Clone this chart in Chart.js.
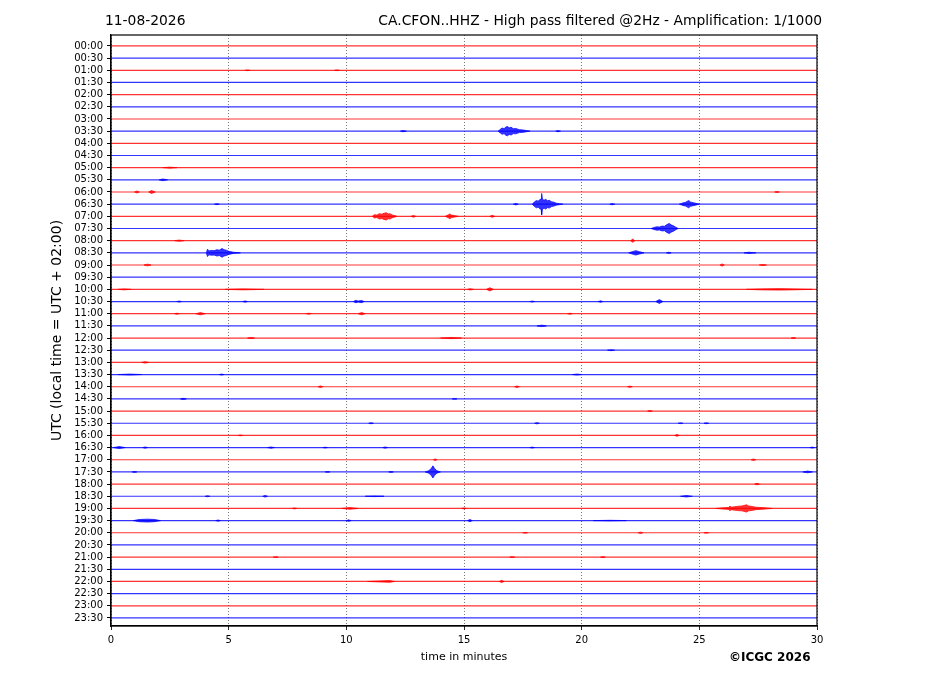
<!DOCTYPE html>
<html><head><meta charset="utf-8">
<script src="https://cdn.jsdelivr.net/npm/chart.js@4.4.1/dist/chart.umd.min.js"></script>
<style>
html,body{margin:0;padding:0;background:#fff;}
#wrap{position:relative;width:927px;height:696px;overflow:hidden;}
.t{position:absolute;font-family:"DejaVu Sans",sans-serif;font-size:13.85px;color:#000;white-space:nowrap;line-height:16px;}
</style></head><body>
<div id="wrap">
<canvas id="c" width="927" height="696"></canvas>
<div class="t" style="left:105px;top:12px;">11-08-2026</div>
<div class="t" style="right:105px;top:12px;">CA.CFON..HHZ - High pass filtered @2Hz - Amplification: 1/1000</div>
<div class="t" style="left:729px;top:650px;font-weight:bold;font-size:12px;line-height:14px;">©ICGC 2026</div>
</div>
<script>
// ---- data ----
const ROW_LABELS = ['00:00','00:30','01:00','01:30','02:00','02:30','03:00','03:30','04:00','04:30',
  '05:00','05:30','06:00','06:30','07:00','07:30','08:00','08:30','09:00','09:30',
  '10:00','10:30','11:00','11:30','12:00','12:30','13:00','13:30','14:00','14:30',
  '15:00','15:30','16:00','16:30','17:00','17:30','18:00','18:30','19:00','19:30',
  '20:00','20:30','21:00','21:30','22:00','22:30','23:00','23:30'];
const X_TICKS = [0, 5, 10, 15, 20, 25, 30];
const TRACE_COLORS = ['255,0,0', '0,0,255'];
// events: [row label, [[minute, half-amplitude in row units], ...]]
const EVENTS = [
  ['01:00', [[5.7,0],[5.8,0.03],[5.9,0]]],
  ['01:00', [[9.5,0],[9.6,0.03],[9.7,0]]],
  ['03:30', [[12.3,0],[12.4,0.05],[12.55,0]]],
  ['03:30', [[16.45,0],[16.55,0.16],[16.62,0.26],[16.7,0.2],[16.78,0.34],[16.85,0.38],[16.92,0.27],[17.0,0.32],[17.1,0.2],[17.2,0.22],[17.35,0.12],[17.5,0.1],[17.65,0.05],[17.8,0]]],
  ['03:30', [[18.9,0],[19.0,0.05],[19.1,0]]],
  ['05:00', [[2.2,0],[2.5,0.04],[2.8,0]]],
  ['05:30', [[2.05,0],[2.2,0.07],[2.4,0]]],
  ['06:00', [[1.0,0],[1.1,0.08],[1.2,0]]],
  ['06:00', [[1.6,0],[1.72,0.12],[1.88,0]]],
  ['06:00', [[28.2,0],[28.3,0.04],[28.4,0]]],
  ['06:30', [[4.4,0],[4.5,0.04],[4.6,0]]],
  ['06:30', [[17.1,0],[17.2,0.06],[17.3,0]]],
  ['06:30', [[17.9,0],[18.0,0.2],[18.08,0.3],[18.15,0.24],[18.22,0.38],[18.28,0.42],[18.3,0.88],[18.33,0.42],[18.4,0.32],[18.47,0.4],[18.55,0.28],[18.62,0.32],[18.72,0.2],[18.82,0.16],[18.92,0.08],[19.05,0.04],[19.2,0]]],
  ['06:30', [[21.2,0],[21.3,0.05],[21.4,0]]],
  ['06:30', [[24.15,0],[24.3,0.1],[24.42,0.16],[24.55,0.3],[24.62,0.18],[24.75,0.12],[25.0,0]]],
  ['07:00', [[11.1,0],[11.2,0.14],[11.3,0.1],[11.4,0.22],[11.5,0.18],[11.6,0.25],[11.7,0.3],[11.78,0.2],[11.85,0.22],[11.95,0.12],[12.15,0]]],
  ['07:00', [[12.75,0],[12.85,0.07],[12.95,0]]],
  ['07:00', [[14.2,0],[14.32,0.1],[14.4,0.2],[14.47,0.1],[14.6,0.06],[14.75,0]]],
  ['07:00', [[16.1,0],[16.2,0.08],[16.3,0]]],
  ['07:30', [[22.95,0],[23.1,0.1],[23.2,0.14],[23.3,0.12],[23.42,0.2],[23.52,0.18],[23.62,0.32],[23.72,0.42],[23.8,0.3],[23.9,0.22],[24.0,0.1],[24.1,0]]],
  ['08:00', [[2.7,0],[2.9,0.05],[3.1,0]]],
  ['08:00', [[22.08,0],[22.17,0.13],[22.26,0]]],
  ['08:30', [[4.05,0],[4.1,0.3],[4.16,0.16],[4.28,0.2],[4.38,0.18],[4.5,0.26],[4.6,0.22],[4.72,0.36],[4.8,0.26],[4.9,0.22],[5.0,0.13],[5.2,0.05],[5.5,0]]],
  ['08:30', [[22.0,0],[22.15,0.1],[22.3,0.18],[22.45,0.1],[22.65,0]]],
  ['08:30', [[23.6,0],[23.7,0.05],[23.8,0]]],
  ['08:30', [[26.9,0],[27.1,0.05],[27.4,0]]],
  ['09:00', [[1.4,0],[1.55,0.07],[1.7,0]]],
  ['09:00', [[25.88,0],[25.97,0.09],[26.06,0]]],
  ['09:00', [[27.55,0],[27.7,0.04],[27.85,0]]],
  ['10:00', [[0.3,0],[0.55,0.04],[0.85,0]]],
  ['10:00', [[4.85,0],[5.6,0.04],[6.5,0]]],
  ['10:00', [[15.15,0],[15.26,0.05],[15.4,0]]],
  ['10:00', [[15.95,0],[16.1,0.13],[16.25,0]]],
  ['10:00', [[27.0,0],[27.6,0.04],[28.4,0.06],[29.0,0.04],[29.8,0]]],
  ['10:30', [[2.8,0],[2.9,0.04],[3.0,0]]],
  ['10:30', [[5.6,0],[5.7,0.05],[5.8,0]]],
  ['10:30', [[10.3,0],[10.4,0.1],[10.5,0.04],[10.65,0.09],[10.75,0]]],
  ['10:30', [[17.8,0],[17.9,0.04],[18.0,0]]],
  ['10:30', [[20.7,0],[20.8,0.06],[20.9,0]]],
  ['10:30', [[23.15,0],[23.3,0.16],[23.45,0]]],
  ['11:00', [[2.7,0],[2.8,0.04],[2.9,0]]],
  ['11:00', [[3.6,0],[3.8,0.09],[4.0,0]]],
  ['11:00', [[8.3,0],[8.4,0.04],[8.5,0]]],
  ['11:00', [[10.5,0],[10.65,0.09],[10.8,0]]],
  ['11:00', [[19.4,0],[19.5,0.04],[19.6,0]]],
  ['11:30', [[18.1,0],[18.3,0.06],[18.5,0]]],
  ['12:00', [[5.8,0],[5.95,0.04],[6.1,0]]],
  ['12:00', [[14.0,0],[14.45,0.05],[14.9,0]]],
  ['12:00', [[28.9,0],[29.0,0.04],[29.1,0]]],
  ['12:30', [[21.1,0],[21.25,0.04],[21.4,0]]],
  ['13:00', [[1.3,0],[1.45,0.06],[1.6,0]]],
  ['13:30', [[0.3,0],[0.8,0.04],[1.3,0]]],
  ['13:30', [[4.6,0],[4.7,0.04],[4.8,0]]],
  ['13:30', [[19.6,0],[19.8,0.04],[20.0,0]]],
  ['14:00', [[8.8,0],[8.9,0.07],[9.0,0]]],
  ['14:00', [[17.15,0],[17.25,0.06],[17.35,0]]],
  ['14:00', [[21.95,0],[22.05,0.05],[22.15,0]]],
  ['14:30', [[2.95,0],[3.06,0.05],[3.2,0]]],
  ['14:30', [[14.5,0],[14.6,0.03],[14.7,0]]],
  ['15:00', [[22.8,0],[22.9,0.04],[23.0,0]]],
  ['15:30', [[10.95,0],[11.05,0.04],[11.15,0]]],
  ['15:30', [[18.0,0],[18.1,0.05],[18.2,0]]],
  ['15:30', [[24.1,0],[24.2,0.03],[24.3,0]]],
  ['15:30', [[25.2,0],[25.3,0.04],[25.4,0]]],
  ['16:00', [[5.4,0],[5.5,0.03],[5.6,0]]],
  ['16:00', [[23.95,0],[24.05,0.07],[24.15,0]]],
  ['16:30', [[0.1,0],[0.35,0.08],[0.6,0]]],
  ['16:30', [[1.35,0],[1.45,0.05],[1.55,0]]],
  ['16:30', [[6.65,0],[6.8,0.05],[6.95,0]]],
  ['16:30', [[9.0,0],[9.1,0.03],[9.2,0]]],
  ['16:30', [[11.55,0],[11.65,0.05],[11.75,0]]],
  ['16:30', [[17.8,0],[17.9,0.04],[18.0,0]]],
  ['16:30', [[29.7,0],[29.8,0.04],[29.9,0]]],
  ['17:00', [[13.7,0],[13.77,0.07],[13.85,0]]],
  ['17:00', [[27.2,0],[27.3,0.06],[27.4,0]]],
  ['17:30', [[0.9,0],[1.0,0.04],[1.1,0]]],
  ['17:30', [[9.1,0],[9.2,0.03],[9.3,0]]],
  ['17:30', [[11.8,0],[11.9,0.04],[12.0,0]]],
  ['17:30', [[13.35,0],[13.5,0.1],[13.6,0.26],[13.68,0.5],[13.75,0.28],[13.85,0.1],[14.0,0]]],
  ['17:30', [[29.4,0],[29.6,0.07],[29.8,0]]],
  ['18:00', [[27.35,0],[27.45,0.06],[27.55,0]]],
  ['18:30', [[4.0,0],[4.1,0.04],[4.2,0]]],
  ['18:30', [[6.45,0],[6.55,0.07],[6.65,0]]],
  ['18:30', [[10.8,0],[11.2,0.03],[11.6,0]]],
  ['18:30', [[24.2,0],[24.45,0.06],[24.7,0]]],
  ['19:00', [[7.7,0],[7.8,0.04],[7.9,0]]],
  ['19:00', [[9.8,0],[10.15,0.07],[10.5,0]]],
  ['19:00', [[14.9,0],[15.0,0.04],[15.1,0]]],
  ['19:00', [[25.7,0],[26.0,0.05],[26.25,0.08],[26.3,0.2],[26.35,0.1],[26.5,0.14],[26.65,0.18],[26.8,0.2],[26.9,0.24],[27.0,0.3],[27.1,0.2],[27.25,0.16],[27.4,0.1],[27.8,0.05],[28.1,0]]],
  ['19:30', [[0.95,0],[1.2,0.09],[1.55,0.12],[1.85,0.09],[2.1,0]]],
  ['19:30', [[4.45,0],[4.55,0.05],[4.65,0]]],
  ['19:30', [[10.0,0],[10.1,0.06],[10.2,0]]],
  ['19:30', [[15.15,0],[15.25,0.09],[15.35,0]]],
  ['19:30', [[20.5,0],[21.2,0.025],[21.9,0]]],
  ['20:00', [[17.5,0],[17.6,0.03],[17.7,0]]],
  ['20:00', [[22.4,0],[22.5,0.05],[22.6,0]]],
  ['20:00', [[25.2,0],[25.3,0.03],[25.4,0]]],
  ['21:00', [[6.9,0],[7.0,0.03],[7.1,0]]],
  ['21:00', [[16.95,0],[17.05,0.04],[17.15,0]]],
  ['21:00', [[20.8,0],[20.9,0.04],[21.0,0]]],
  ['22:00', [[10.9,0],[11.4,0.04],[11.85,0.07],[12.05,0]]],
  ['22:00', [[16.5,0],[16.6,0.09],[16.7,0]]]
];

// ---- build datasets ----
function rowColor(i, a) { return 'rgba(' + TRACE_COLORS[i % 2] + ',' + a + ')'; }
const datasets = [];
ROW_LABELS.forEach((lab, i) => {
  datasets.push({
    data: [{x: X_TICKS[0], y: i}, {x: X_TICKS[X_TICKS.length - 1], y: i}],
    borderColor: rowColor(i, 0.8), borderWidth: 1.2, pointRadius: 0, fill: false, order: 2
  });
});
EVENTS.forEach(([lab, pts]) => {
  const i = ROW_LABELS.indexOf(lab);
  datasets.push({
    data: pts.map(p => ({x: p[0], y: i - p[1]})),
    borderColor: rowColor(i, 0.9), borderWidth: 0.8, pointRadius: 0, fill: false, order: 1
  });
  datasets.push({
    data: pts.map(p => ({x: p[0], y: i + p[1]})),
    borderColor: rowColor(i, 0.9), borderWidth: 0.8, pointRadius: 0,
    fill: '-1', backgroundColor: rowColor(i, 0.8), order: 1
  });
});

const frame = {
  id: 'frame',
  afterDraw(chart) {
    const {ctx, chartArea: a} = chart;
    ctx.save();
    ctx.strokeStyle = '#000'; ctx.lineWidth = 1.2;
    ctx.strokeRect(a.left, a.top, a.right - a.left, a.bottom - a.top);
    ctx.restore();
  }
};

new Chart(document.getElementById('c'), {
  type: 'line',
  data: { datasets },
  plugins: [frame],
  options: {
    responsive: false, animation: false, devicePixelRatio: 1,
    layout: { padding: { left: 45, right: 110, top: 35, bottom: 28.4 } },
    plugins: { legend: { display: false }, tooltip: { enabled: false } },
    elements: { line: { tension: 0 } },
    scales: {
      x: {
        type: 'linear', min: 0, max: 30,
        afterBuildTicks: s => { s.ticks = X_TICKS.map(v => ({value: v})); },
        afterFit: s => { s.height = 41.6; },
        ticks: { color: '#000', font: { family: 'DejaVu Sans', size: 10 }, padding: 4, maxRotation: 0 },
        grid: { color: '#555', lineWidth: 0.8, tickLength: 4, tickColor: '#000', tickWidth: 1, tickBorderDash: [1, 0] },
        border: { display: true, color: '#000', width: 1.2, dash: [1, 2] },
        title: { display: true, text: 'time in minutes', color: '#000', font: { family: 'DejaVu Sans', size: 11 }, padding: { top: 4, bottom: 4 } }
      },
      y: {
        type: 'linear', reverse: true, min: -0.9, max: 47.66,
        afterBuildTicks: s => { s.ticks = ROW_LABELS.map((l, i) => ({value: i})); },
        afterFit: s => { s.width = 66; },
        ticks: { color: '#000', font: { family: 'DejaVu Sans', size: 10 }, padding: 4, autoSkip: false,
          callback: v => ROW_LABELS[v] },
        grid: { drawOnChartArea: false, tickLength: 4, tickColor: '#000', tickWidth: 1 },
        border: { display: true, color: '#000', width: 1.2 },
        title: { display: true, text: 'UTC (local time = UTC + 02:00)', color: '#000', font: { family: 'DejaVu Sans', size: 14 }, padding: { top: 4, bottom: 4 } }
      }
    }
  }
});
</script>
</body></html>
